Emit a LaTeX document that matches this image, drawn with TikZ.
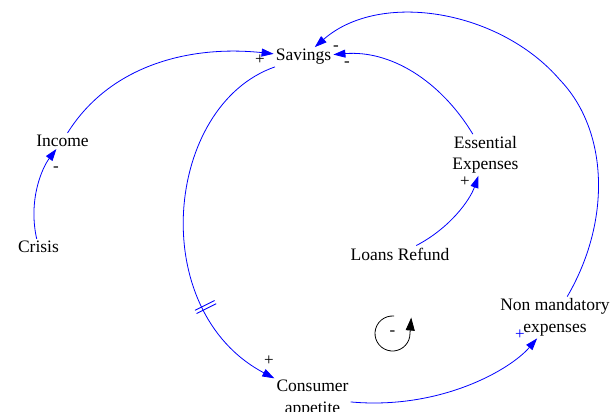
\documentclass[tikz,border=0pt]{standalone}
\usepackage{fontspec}
\setmainfont{Liberation Serif}
\usetikzlibrary{arrows.meta}

\begin{document}
\begin{tikzpicture}[x=1pt, y=-1pt,
    var/.style={font=\fontsize{17.5}{21.5}\selectfont, align=center, inner sep=2pt},
    pol/.style={font=\fontsize{17}{19}\selectfont, inner sep=0pt},
    link/.style={-{Triangle[length=12pt,width=8pt]}, blue, line width=0.8pt}
]
    \useasboundingbox (0,0) rectangle (616,412);

    \node[var] (savings) at (303.5,57) {Savings};
    \node[var] (income) at (62.5,141) {Income};
    \node[var] (crisis) at (38.5,247) {Crisis};
    \node[var] (essential) at (485.5,155) {Essential\\Expenses};
    \node[var] (loans) at (400,254) {Loans Refund};
    \node[var] (nonmand) at (555,317.5) {Non mandatory\\expenses};
    \node[var] (consumer) at (312.5,398.5) {Consumer\\appetite};

    \draw[link] (crisis) .. controls (28,200) and (42,168) .. (income);
    \draw[link] (income) .. controls (110,65) and (190,45) .. (savings);
    \draw[link] (loans) .. controls (450,228) and (470,200) .. (essential);
    \draw[link] (essential) .. controls (440,80) and (390,50) .. (savings);
    \draw[link] (savings) .. controls (165,105) and (145,310) .. (consumer);
    \draw[link] (consumer) .. controls (440,410) and (510,370) .. (nonmand);
    \draw[link] (nonmand) .. controls (612,220) and (608,130) .. (560,80)
        .. controls (500,10) and (380,-10) .. (savings);

    % delay mark
    \draw[blue, line width=0.8pt] (195,310.3) -- (214.6,300.5);
    \draw[blue, line width=0.8pt] (196.6,313.5) -- (216.2,303.7);

    % Annotations
    \node[pol] (p1) at (56,169) {-};
    \node[pol] (p2) at (260,60) {+};
    \node[pol] (p3) at (465,182) {+};
    \node[pol] (p4) at (347,64) {-};
    \node[pol] (p5) at (336,48) {-};
    \node[pol] (p6) at (269,361) {+};
    \node[pol, blue] (p7) at (520,335) {+};

    % loop marker
    \coordinate (loop) at (392.5,333.5);
    \node[pol] (loopsign) at (loop) {-};
    \draw[-{Triangle[length=13pt,width=9pt]}, line width=0.8pt]
        ([shift={(85:17.5pt)}]loop) arc[start angle=85, end angle=350, radius=17.5pt]
        -- ++(1.5pt,19pt);
\end{tikzpicture}
\end{document}
